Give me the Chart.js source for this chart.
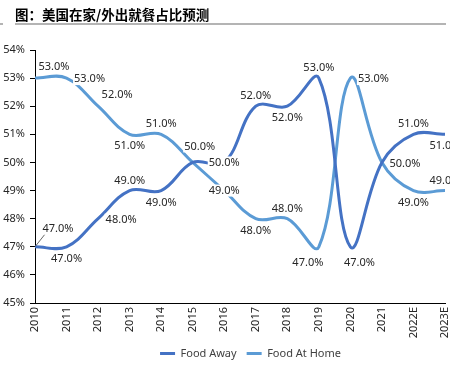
<!DOCTYPE html>
<html>
<head>
<meta charset="utf-8">
<script src="https://cdn.jsdelivr.net/npm/chart.js@4/dist/chart.umd.min.js"></script>
<style>
  html, body { margin: 0; padding: 0; background: #fff; }
  #wrap { position: relative; width: 450px; height: 369px; }
  #title { position: absolute; left: 15px; top: 4px; font: bold 13.5px "Noto Sans CJK SC", sans-serif; color: #000; white-space: nowrap; }
  #rule { position: absolute; left: 15px; top: 23px; width: 431px; height: 2px; background: #b4b4b4; }
  #rule2 { position: absolute; left: 0; top: 23px; width: 3px; height: 2px; background: #b4b4b4; }
  canvas { position: absolute; left: 0; top: 0; }
</style>
</head>
<body>
<div id="wrap">
  <canvas id="chart" width="450" height="369"></canvas>
  <div id="title">图：美国在家/外出就餐占比预测</div>
  <div id="rule"></div>
  <div id="rule2"></div>
</div>
<script>
(function() {
    'use strict';

    // 数据
    const years = ['2010', '2011', '2012', '2013', '2014', '2015', '2016', '2017', '2018', '2019', '2020', '2021', '2022E', '2023E'];
    const foodAway = [47, 47, 48, 49, 49, 50, 50, 52, 52, 53, 47, 50, 51, 51];
    const foodAtHome = [53, 53, 52, 51, 51, 50, 49, 48, 48, 47, 53, 50, 49, 49];

    // 标签位置代码
    const awayLabelPos = ['lead', 'b', 'r', 'a', 'b', 'n', 'c', 'a', 'b', 'a', 'br', 'r', 'a', 'b'];
    const homeLabelPos = ['ar', 'r', 'ar', 'b', 'a', 'ar2', 'c', 'b', 'a', 'bl', 'r', 'n', 'b', 'a'];

    const offsets = {
        a: [0, -10], b: [0, 12], r: [23, 1], ar: [19, -11], ar2: [7, -16],
        c: [0, 0], bl: [-11, 16], br: [9, 16], lead: [23, -18]
    };

    const valueLabels = {
        id: 'valueLabels',
        afterLayout(chart) {
            // 图例整体右移
            if (chart.legend) {
                chart.legend.left += 28;
                chart.legend.right += 28;
            }
        },
        afterDatasetsDraw(chart) {
            const ctx = chart.ctx;
            ctx.save();
            ctx.font = '11px "Noto Sans", sans-serif';
            ctx.textAlign = 'center';
            ctx.textBaseline = 'middle';
            chart.data.datasets.forEach(function(ds, i) {
                const meta = chart.getDatasetMeta(i);
                meta.data.forEach(function(pt, j) {
                    const code = ds.labelPos[j];
                    if (code === 'n') return;
                    const off = offsets[code];
                    const x = pt.x + off[0];
                    const y = pt.y + off[1];
                    const txt = ds.data[j].toFixed(1) + '%';
                    const w = ctx.measureText(txt).width;
                    ctx.fillStyle = '#fff';
                    ctx.fillRect(x - w / 2 - 1, y - 6, w + 2, 12);
                    if (code === 'lead') {
                        ctx.strokeStyle = '#404040';
                        ctx.lineWidth = 0.8;
                        ctx.beginPath();
                        ctx.moveTo(pt.x, pt.y);
                        ctx.lineTo(x - w / 2 + 2, y + 6);
                        ctx.stroke();
                    }
                    ctx.fillStyle = '#262626';
                    ctx.fillText(txt, x, y);
                });
            });
            ctx.restore();
        }
    };

    new Chart(document.getElementById('chart'), {
        type: 'line',
        data: {
            labels: years,
            datasets: [{
                label: 'Food Away',
                data: foodAway,
                labelPos: awayLabelPos,
                borderColor: '#4472C4',
                backgroundColor: '#4472C4',
                borderWidth: 3,
                pointRadius: 0,
                tension: 0.38,
                fill: false
            }, {
                label: 'Food At Home',
                data: foodAtHome,
                labelPos: homeLabelPos,
                borderColor: '#5B9BD5',
                backgroundColor: '#5B9BD5',
                borderWidth: 3,
                pointRadius: 0,
                tension: 0.38,
                fill: false
            }]
        },
        options: {
            responsive: false,
            animation: false,
            layout: { padding: { top: 50, right: 5, bottom: 0, left: 0 } },
            plugins: {
                legend: {
                    position: 'bottom',
                    labels: {
                        usePointStyle: true,
                        pointStyle: 'line',
                        pointStyleWidth: 15,
                        padding: 10,
                        color: '#404040',
                        font: { family: '"Noto Sans", sans-serif', size: 11 }
                    }
                },
                tooltip: { enabled: false }
            },
            scales: {
                x: {
                    offset: false,
                    afterFit: function(scale) {
                        scale.height = 35;
                        scale.paddingLeft = 0;
                        scale.paddingRight = 0;
                    },
                    grid: { display: true, drawOnChartArea: false, drawTicks: false },
                    border: { color: '#000', width: 1 },
                    ticks: {
                        autoSkip: false,
                        minRotation: 90,
                        maxRotation: 90,
                        padding: 4,
                        color: '#262626',
                        font: { family: '"Noto Sans", sans-serif', size: 11 }
                    }
                },
                y: {
                    min: 45,
                    max: 54,
                    afterFit: function(scale) { scale.width = 35; },
                    grid: { drawOnChartArea: false, drawTicks: true, tickLength: 5, color: '#000' },
                    border: { color: '#000', width: 1 },
                    ticks: {
                        stepSize: 1,
                        padding: 5,
                        color: '#262626',
                        font: { family: '"Noto Sans", sans-serif', size: 11 },
                        callback: function(v) { return v + '%'; }
                    }
                }
            }
        },
        plugins: [valueLabels]
    });
})();
</script>
</body>
</html>
